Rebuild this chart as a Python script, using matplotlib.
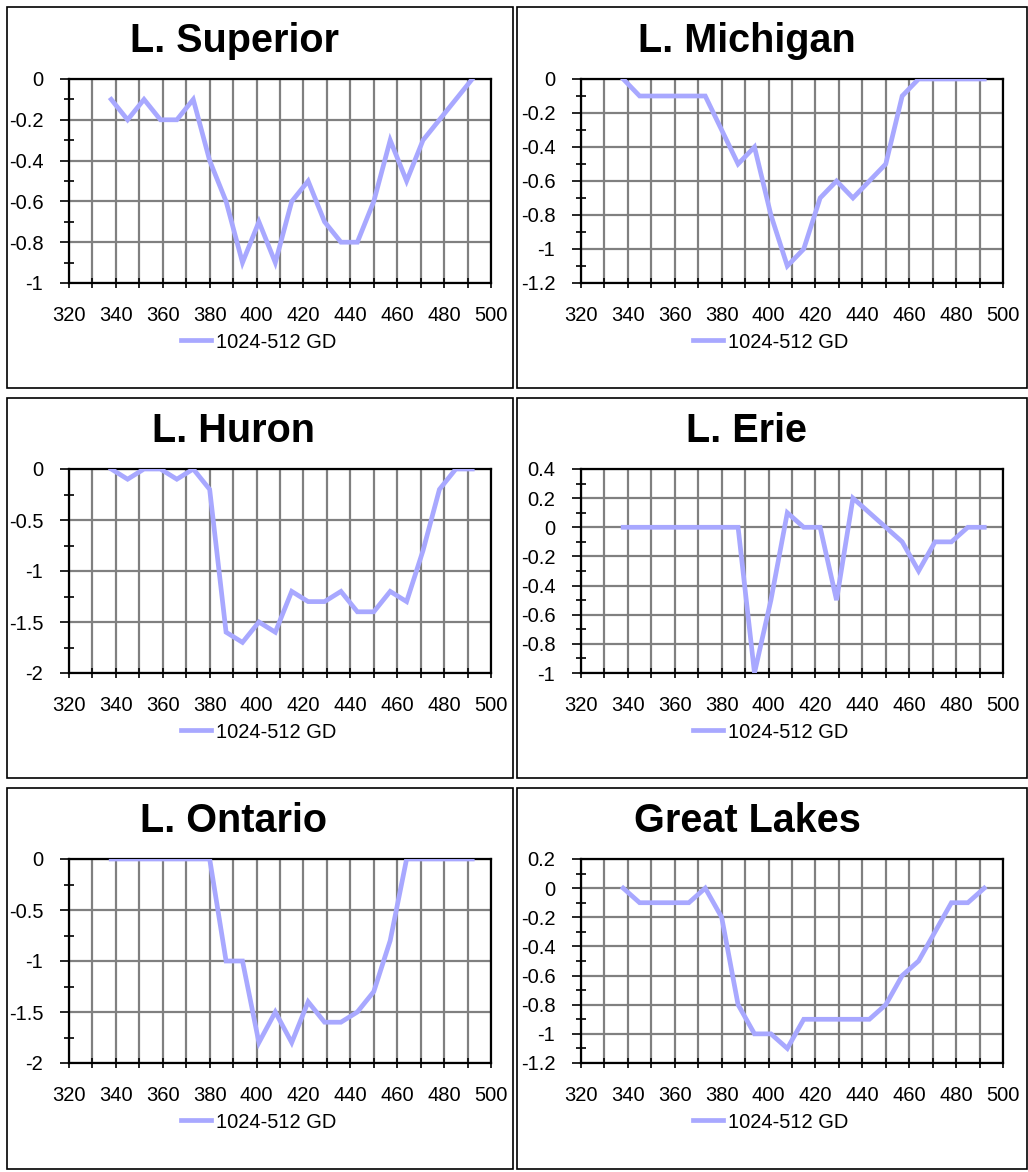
import matplotlib
matplotlib.use("Agg")
import matplotlib.pyplot as plt
from matplotlib.ticker import MultipleLocator, FuncFormatter
from matplotlib.patches import Rectangle

plt.rcParams['font.family'] = ['Liberation Sans', 'DejaVu Sans']

wavelength = [338, 345, 352, 359, 366, 373, 380, 387, 394, 401, 408, 415,
              422, 429, 436, 443, 450, 457, 464, 471, 478, 485, 492]

superior = [-0.1, -0.2, -0.1, -0.2, -0.2, -0.1, -0.4, -0.6, -0.9, -0.7, -0.9, -0.6,
            -0.5, -0.7, -0.8, -0.8, -0.6, -0.3, -0.5, -0.3, -0.2, -0.1, 0.0]
michigan = [0.0, -0.1, -0.1, -0.1, -0.1, -0.1, -0.3, -0.5, -0.4, -0.8, -1.1, -1.0,
            -0.7, -0.6, -0.7, -0.6, -0.5, -0.1, 0.0, 0.0, 0.0, 0.0, 0.0]
huron = [0.0, -0.1, 0.0, 0.0, -0.1, 0.0, -0.2, -1.6, -1.7, -1.5, -1.6, -1.2,
         -1.3, -1.3, -1.2, -1.4, -1.4, -1.2, -1.3, -0.8, -0.2, 0.0, 0.0]
erie = [0.0, 0.0, 0.0, 0.0, 0.0, 0.0, 0.0, 0.0, -1.0, -0.5, 0.1, 0.0,
        0.0, -0.5, 0.2, 0.1, 0.0, -0.1, -0.3, -0.1, -0.1, 0.0, 0.0]
ontario = [0.0, 0.0, 0.0, 0.0, 0.0, 0.0, 0.0, -1.0, -1.0, -1.8, -1.5, -1.8,
           -1.4, -1.6, -1.6, -1.5, -1.3, -0.8, 0.0, 0.0, 0.0, 0.0, 0.0]
great_lakes = [0.0, -0.1, -0.1, -0.1, -0.1, 0.0, -0.2, -0.8, -1.0, -1.0, -1.1, -0.9,
               -0.9, -0.9, -0.9, -0.9, -0.8, -0.6, -0.5, -0.3, -0.1, -0.1, 0.0]

titles = ["L. Superior", "L. Michigan", "L. Huron", "L. Erie", "L. Ontario", "Great Lakes"]
series = [superior, michigan, huron, erie, ontario, great_lakes]
ylims = [(-1, 0), (-1.2, 0), (-2, 0), (-1, 0.4), (-2, 0), (-1.2, 0.2)]
ysteps = [0.2, 0.2, 0.5, 0.2, 0.5, 0.2]
legend_label = "1024-512 GD"

W, H = 1028, 1172
fig = plt.figure(figsize=(W / 100, H / 100), dpi=100)

LINE_COLOR = '#A8A8FF'
GRID_COLOR = '#808080'

col_plot_left = [69, 581]
plot_w = 422
row_plot_top = [79, 469, 859]
plot_h = 204
box_x = [(7, 513), (517, 1027)]
box_y = [(7, 388), (398, 778), (788, 1169)]
title_x = [234, 747]
legend_cx = [259, 771]

fmt = FuncFormatter(lambda v, p: '%g' % round(v, 4))

for i in range(6):
    r, c = divmod(i, 2)
    bx0, bx1 = box_x[c]
    by0, by1 = box_y[r]
    fig.add_artist(Rectangle((bx0 / W, 1 - by1 / H), (bx1 - bx0) / W, (by1 - by0) / H,
                             transform=fig.transFigure, fill=False,
                             edgecolor='black', linewidth=1.2))
    left = col_plot_left[c] / W
    bottom = 1 - (row_plot_top[r] + plot_h) / H
    ax = fig.add_axes([left, bottom, plot_w / W, plot_h / H])
    ax.plot(wavelength, series[i], color=LINE_COLOR, linewidth=3.4,
            solid_joinstyle='miter', label=legend_label, zorder=3)
    ax.set_xlim(320, 500)
    ax.set_ylim(*ylims[i])
    ax.xaxis.set_major_locator(MultipleLocator(20))
    ax.xaxis.set_minor_locator(MultipleLocator(10))
    ax.yaxis.set_major_locator(MultipleLocator(ysteps[i]))
    ax.yaxis.set_minor_locator(MultipleLocator(ysteps[i] / 2))
    ax.yaxis.set_major_formatter(fmt)
    ax.grid(True, which='major', axis='both', color=GRID_COLOR, linewidth=1.6, zorder=1)
    ax.grid(True, which='minor', axis='x', color=GRID_COLOR, linewidth=1.6, zorder=1)
    ax.set_axisbelow(True)
    for s in ax.spines.values():
        s.set_color('black')
        s.set_linewidth(1.6)
        s.set_zorder(2)
    ax.tick_params(axis='x', which='both', direction='inout', length=6.5, width=1.2,
                   labelsize=14.5, pad=13, top=False)
    ax.tick_params(axis='y', which='major', direction='out', length=6.5, width=1.2,
                   labelsize=14.5, pad=12)
    ax.tick_params(axis='y', which='minor', direction='inout', length=6.5, width=1.2)
    ax.set_facecolor('white')
    fig.text(title_x[c] / W, 1 - (41 + 390 * r) / H, titles[i], ha='center', va='center',
             fontsize=28.5, fontweight='bold')
    ax.legend(loc='center', bbox_to_anchor=(legend_cx[c] / W, 1 - (342 + 390 * r) / H),
              bbox_transform=fig.transFigure, frameon=False, fontsize=14.5,
              handlelength=1.45, handletextpad=0.28, borderpad=0, borderaxespad=0)

fig.savefig("out.png", dpi=100, facecolor='white')
